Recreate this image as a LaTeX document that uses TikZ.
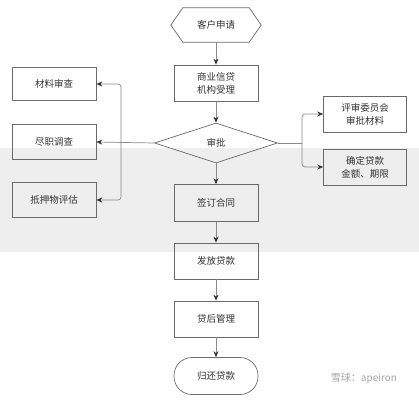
\documentclass[tikz,border=0pt]{standalone}
\usepackage{fontspec}
\setmainfont{Noto Sans CJK SC}
\usetikzlibrary{arrows.meta,shapes.geometric,calc}
\definecolor{linec}{HTML}{8A8A8A}
\definecolor{boxc}{HTML}{6A6A6A}
\definecolor{txtc}{HTML}{333333}
\definecolor{bandc}{HTML}{EEEEEE}
\begin{document}
\begin{tikzpicture}[x=1pt,y=-1pt,
  every node/.style={font=\fontsize{9.5}{13}\selectfont, text=txtc},
  box/.style={draw=boxc, line width=0.7pt, minimum width=84pt, minimum height=36pt, inner sep=1pt, align=center},
  conn/.style={draw=linec, line width=0.7pt},
  arr/.style={conn, -{Stealth[length=6pt,width=5pt,inset=2pt,color=black!80]}},
  ]
\useasboundingbox (0,0) rectangle (419,400);
\fill[white] (0,0) rectangle (419,400);
\fill[bandc] (0,148) rectangle (419,252);
% nodes
\node (start) [minimum width=90pt, minimum height=34pt, inner sep=0pt] at (216,25) {客户申请};
\draw[draw=boxc, line width=0.7pt] (start.west) -- ($(start.north west)+(12,0)$) -- ($(start.north east)+(-12,0)$) -- (start.east) -- ($(start.south east)+(-12,0)$) -- ($(start.south west)+(12,0)$) -- cycle;
\node (accept) [box] at (216,83) {商业信贷\\机构受理};
\node (approve) [draw=boxc, line width=0.7pt, diamond, minimum width=123pt, minimum height=40pt, inner sep=0pt] at (216,143) {审批};
\node (sign) [box, minimum height=37pt] at (216,203) {签订合同};
\node (issue) [box] at (216,261) {发放贷款};
\node (manage) [box] at (216,319) {贷后管理};
\node (repay) [box, rounded corners=18pt, minimum height=37pt] at (216,376) {归还贷款};
\node (review) [box, minimum height=33pt] at (54,84) {材料审查};
\node (due) [box, minimum height=35pt] at (54,142) {尽职调查};
\node (collat) [box, minimum height=35pt] at (54,200) {抵押物评估};
\node (committee) [box, minimum width=83pt] at (365,114) {评审委员会\\审批材料};
\node (confirm) [box, minimum width=83pt] at (365,167) {确定贷款\\金额、期限};
\node (mark) [text=black!35, font=\fontsize{10}{12}\selectfont] at (364,378) {雪球：apeiron};
\coordinate (vl) at (121,143);
\coordinate (vr) at (302,143);
% connectors
\draw[arr] (start) -- (accept);
\draw[arr] (accept) -- (approve);
\draw[arr] (approve.west) -- (due.east);
\draw[arr, rounded corners=3pt] (vl) |- (review.east);
\draw[arr, rounded corners=3pt] (vl) |- (collat.east);
\draw[conn] (approve.east) -- (vr);
\draw[arr, rounded corners=3pt] (vr) |- (committee.west);
\draw[arr, rounded corners=3pt] (vr) |- (confirm.west);
\draw[arr] (approve.south) -- (sign.north);
\draw[arr] (sign) -- (issue);
\draw[arr] (issue) -- (manage);
\draw[arr] (manage) -- (repay);
\end{tikzpicture}
\end{document}
